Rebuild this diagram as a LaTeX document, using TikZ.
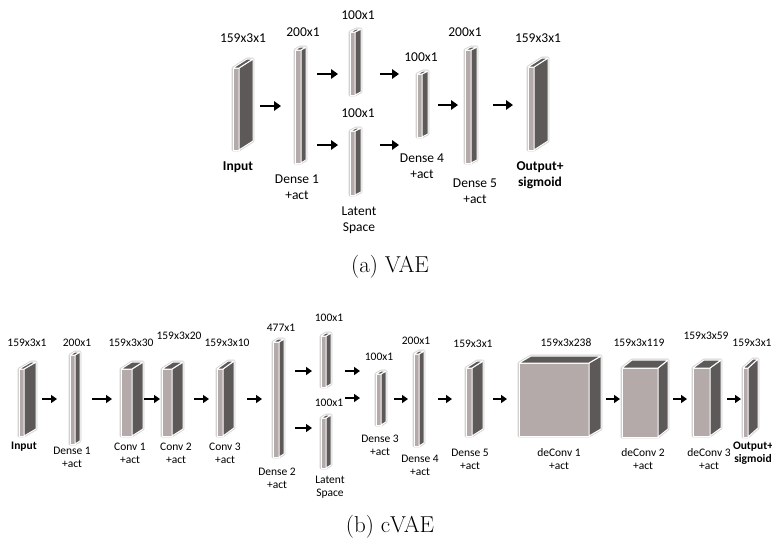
\documentclass[tikz,border=0pt]{standalone}
\usepackage{fontspec}
\newfontfamily\lblfont{Carlito}
\usetikzlibrary{arrows.meta,calc}
\definecolor{frontc}{RGB}{180,170,170}
\definecolor{sidec}{RGB}{94,89,89}
\tikzset{
  frontface/.style={rectangle,fill=frontc,draw=white,line width=1pt,inner sep=0pt,outer sep=0pt},
  sideface/.style={fill=sidec,draw=white,line width=1pt,line join=round},
  halo/.style={draw=black!18,line width=2.6pt,line join=round},
  arrA/.style={line width=2.8pt,-{Triangle[length=7pt,width=9.5pt]}},
  arrB/.style={line width=2.2pt,-{Triangle[length=6pt,width=8pt]}},
  lblA/.style={font=\lblfont\fontsize{13.5}{16}\selectfont,align=center,inner sep=0pt},
  lblB/.style={font=\lblfont\fontsize{11.5}{13}\selectfont,align=center,inner sep=0pt},
  capstyle/.style={font=\fontsize{23}{27}\selectfont,inner sep=0pt},
}
% #1 name, #2 x1, #3 x2, #4 ytop, #5 ybot, #6 dx, #7 dy
\newcommand{\prism}[7]{%
  \path[halo] (#2,#5) -- (#2,#4) -- ({#2+#6},{#4+#7}) -- ({#3+#6},{#4+#7}) -- ({#3+#6},{#5+#7}) -- (#3,#5) -- cycle;
  \node[frontface,minimum width={(#3-#2)*1pt},minimum height={(#5-#4)*1pt}] (#1) at ({(#2+#3)/2},{(#4+#5)/2}) {};
  \path[sideface] (#1.north east) -- ++(#6,#7) -- ($(#1.south east)+(#6,#7)$) -- (#1.south east) -- cycle;
  \path[sideface] (#1.north west) -- ++(#6,#7) -- ($(#1.north east)+(#6,#7)$) -- (#1.north east) -- cycle;
}
% #1 style, #2 name, #3 x1, #4 x2, #5 y
\newcommand{\arrw}[5]{%
  \coordinate (#2s) at (#3,#5);
  \coordinate (#2e) at (#4,#5);
  \draw[#1] (#2s) -- (#2e);
}
\begin{document}
\begin{tikzpicture}[x=1pt,y=-1pt]
\useasboundingbox (0,0) rectangle (772,542);
\fill[white] (0,0) rectangle (772,542);

% ---------------- (a) VAE ----------------
\prism{inA}{233}{239}{68}{150}{14}{-9}
\prism{dOneA}{295}{301}{50}{163}{5}{-3}
\prism{zmA}{350}{355}{32}{95}{6}{-3}
\prism{lsA}{350}{355}{131}{195}{6}{-3}
\prism{dFourA}{417}{422}{74}{137}{6}{-3}
\prism{dFiveA}{465}{471}{50}{163}{6}{-3}
\prism{outA}{528}{534}{67}{150}{14}{-9}

\node[lblA] (tInA) at (243,38) {159x3x1};
\node[lblA] (bInA) at (238,167) {\bfseries Input};
\node[lblA] (tD1A) at (303,32) {200x1};
\node[lblA] (bD1A) at (297,187) {Dense 1\\+act};
\node[lblA] (tZmA) at (358,15) {100x1};
\node[lblA] (tLsA) at (358,113) {100x1};
\node[lblA] (bLsA) at (359,220) {Latent\\Space};
\node[lblA] (tD4A) at (421,57) {100x1};
\node[lblA] (bD4A) at (422,166) {Dense 4\\+act};
\node[lblA] (tD5A) at (465,32) {200x1};
\node[lblA] (bD5A) at (475,191) {Dense 5\\+act};
\node[lblA] (tOutA) at (538,38) {159x3x1};
\node[lblA] (bOutA) at (540,175) {\bfseries Output+\\\bfseries sigmoid};

\arrw{arrA}{aA1}{260}{281}{106}
\arrw{arrA}{aA2}{317}{338}{74}
\arrw{arrA}{aA3}{317}{338}{145}
\arrw{arrA}{aA4}{380}{399}{74}
\arrw{arrA}{aA5}{380}{399}{145}
\arrw{arrA}{aA6}{438}{458}{105}
\arrw{arrA}{aA7}{493}{513}{105}

\node[capstyle] (capA) at (390,267) {(a) VAE};

% ---------------- (b) cVAE ----------------
\prism{inB}{19}{24}{369}{436}{12}{-7}
\prism{dOneB}{70}{75}{355}{444}{5}{-3}
\prism{cOneB}{121}{132}{369}{436}{11}{-7}
\prism{cTwoB}{162}{172}{369}{436}{11}{-7}
\prism{cThreeB}{217}{223}{369}{436}{11}{-8}
\prism{dTwoB}{273}{279}{342}{457}{5}{-3}
\prism{zmB}{321}{326}{336}{387}{5}{-3}
\prism{lsB}{321}{326}{418}{468}{5}{-3}
\prism{dThreeB}{376}{381}{374}{425}{5}{-3}
\prism{dFourB}{414}{419}{354}{446}{5}{-3}
\prism{dFiveB}{466}{472}{368}{436}{11}{-7}
\prism{dcOneB}{519}{589}{363}{436}{12}{-7}
\prism{dcTwoB}{622}{658}{368}{437}{10}{-8}
\prism{dcThreeB}{693}{710}{368}{436}{11}{-8}
\prism{outB}{743}{748}{368}{437}{10}{-9}

\node[lblB] (tInB) at (27,343) {159x3x1};
\node[lblB] (bInB) at (24,447) {\bfseries Input};
\node[lblB] (tD1B) at (77,343) {200x1};
\node[lblB] (bD1B) at (72,457.5) {Dense 1\\+act};
\node[lblB] (tC1B) at (131,343) {159x3x30};
\node[lblB] (bC1B) at (130,453.5) {Conv 1\\+act};
\node[lblB] (tC2B) at (179,336) {159x3x20};
\node[lblB] (bC2B) at (176,453.5) {Conv 2\\+act};
\node[lblB] (tC3B) at (227,343) {159x3x10};
\node[lblB] (bC3B) at (225,453.5) {Conv 3\\+act};
\node[lblB] (tD2B) at (281,328) {477x1};
\node[lblB] (bD2B) at (277,478.5) {Dense 2\\+act};
\node[lblB] (tZmB) at (329,318) {100x1};
\node[lblB] (tLsB) at (329,403) {100x1};
\node[lblB] (bLsB) at (330,487) {Latent\\Space};
\node[lblB] (tD3B) at (379,357) {100x1};
\node[lblB] (bD3B) at (380,445) {Dense 3\\+act};
\node[lblB] (tD4B) at (416,341) {200x1};
\node[lblB] (bD4B) at (420,465.5) {Dense 4\\+act};
\node[lblB] (tD5B) at (473,344) {159x3x1};
\node[lblB] (bD5B) at (470,459) {Dense 5\\+act};
\node[lblB] (tDc1B) at (566,343) {159x3x238};
\node[lblB] (bDc1B) at (559,459) {deConv 1\\+act};
\node[lblB] (tDc2B) at (639,343) {159x3x119};
\node[lblB] (bDc2B) at (643,459) {deConv 2\\+act};
\node[lblB] (tDc3B) at (706,336) {159x3x59};
\node[lblB] (bDc3B) at (709,459) {deConv 3\\+act};
\node[lblB] (tOutB) at (752,343) {159x3x1};
\node[lblB] (bOutB) at (753,453.5) {\bfseries Output+\\\bfseries sigmoid};

\arrw{arrB}{aB1}{42}{57}{399}
\arrw{arrB}{aB2}{92}{112}{399}
\arrw{arrB}{aB3}{144}{160}{399}
\arrw{arrB}{aB4}{194}{209}{399}
\arrw{arrB}{aB5}{247}{262}{399}
\arrw{arrB}{aB6}{295}{312}{371}
\arrw{arrB}{aB7}{295}{312}{428}
\arrw{arrB}{aB8}{345}{360}{371}
\arrw{arrB}{aB9}{345}{360}{398}
\arrw{arrB}{aB10}{394}{408}{399}
\arrw{arrB}{aB11}{438}{452}{399}
\arrw{arrB}{aB12}{493}{507}{399}
\arrw{arrB}{aB13}{606}{620}{399}
\arrw{arrB}{aB14}{673}{687}{399}
\arrw{arrB}{aB15}{727}{741}{399}

\node[capstyle] (capB) at (390,527) {(b) cVAE};
\end{tikzpicture}
\end{document}
